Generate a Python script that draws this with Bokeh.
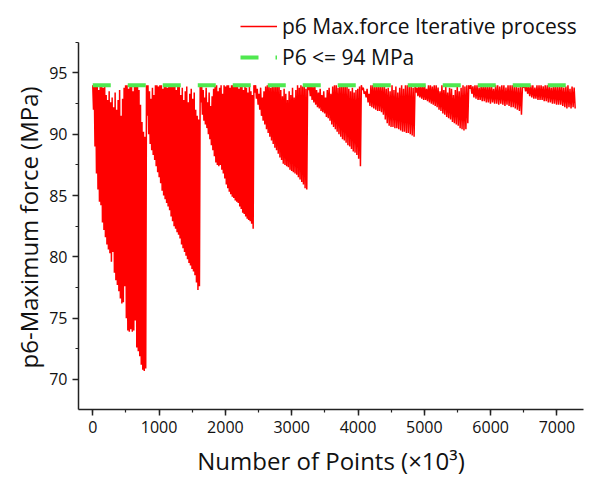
from bokeh.plotting import figure
from bokeh.models import (Legend, LegendItem, SingleIntervalTicker, FixedTicker,
                          Range1d, Title)
from bokeh.embed import file_html
from bokeh.resources import INLINE

# ---------------- data ----------------
seg_len = 810
seg_start = [0, 810, 1620, 2430, 3240, 4050, 4860, 5670, 6480]

trough_1 = [92.0, 89.0, 86.8, 85.5, 84.5, 84.2, 82.8, 82.2, 81.6, 81.0, 80.6, 80.3,
            79.6, 80.4, 78.7, 78.1, 77.7, 77.2, 76.6, 76.2, 76.3, 77.6, 75.0, 74.0,
            73.9, 74.1, 73.9, 74.0, 74.8, 72.6, 72.3, 71.9, 71.2, 70.8, 70.7, 70.9]
peak_1 = [94, 94, 93.9, 94, 93.6, 94, 94, 93.8, 94, 93.2, 92.8, 93.5,
          92.6, 93.0, 92.2, 93.4, 92.0, 92.8, 93.6, 91.5, 92.9, 93.8, 94, 94,
          93.7, 94, 94, 93.5, 94, 93.9, 94, 93.6, 92.4, 91.0, 90.2, 89.8]

trough_2 = [91.5, 90.0, 89.2, 88.7, 88.3, 87.9, 87.4, 86.9, 86.5, 86.0, 85.4, 85.0,
            84.7, 84.4, 84.1, 83.8, 83.3, 82.9, 82.5, 82.3, 82.0, 81.8, 81.5, 81.0,
            80.7, 80.4, 80.1, 79.8, 79.5, 79.3, 79.0, 78.8, 78.5, 77.9, 77.3, 77.6]
peak_2 = [94, 94, 93.5, 92.9, 93.8, 93.2, 94, 94, 93.9, 94, 94, 93.7,
          94, 94, 93.8, 94, 94, 94, 93.9, 94, 93.6, 94, 93.9, 93.2,
          93.8, 92.8, 93.5, 93.9, 92.6, 93.3, 93.7, 92.9, 93.4, 92.0, 91.5, 91.2]

trough_3 = [92.6, 91.6, 91.1, 90.8, 90.5, 90.0, 89.6, 89.1, 88.7, 88.2, 87.7, 87.5,
            87.4, 87.5, 87.1, 86.8, 86.4, 85.9, 85.6, 85.3, 85.1, 84.9, 84.8, 84.6,
            84.5, 84.4, 84.1, 83.9, 83.6, 83.5, 83.3, 83.1, 83.0, 82.9, 82.7, 82.3]
peak_3 = [94, 94, 93.6, 93.0, 93.8, 92.6, 93.4, 92.3, 93.1, 93.7, 93.9, 94,
          93.5, 93.8, 94, 93.3, 94, 93.9, 94, 94, 93.8, 94, 94, 94,
          93.9, 94, 93.7, 94, 94, 93.6, 94, 93.8, 93.4, 93.9, 93.5, 93.2]

trough_4 = [93.4, 92.9, 92.4, 92.0, 91.5, 91.1, 90.8, 90.4, 90.1, 89.8, 89.5, 89.2,
            88.9, 88.7, 88.4, 88.1, 87.9, 87.6, 87.5, 87.4, 87.3, 87.1, 87.0, 86.9,
            86.8, 86.7, 86.5, 86.3, 86.1, 85.9, 85.6, 85.5]
peak_4 = [94, 94, 93.7, 93.3, 93.8, 93.0, 93.5, 93.9, 94, 94, 93.8, 94,
          94, 93.9, 94, 94, 93.6, 93.1, 93.7, 93.3, 92.8, 93.5, 93.2, 93.8,
          93.0, 93.6, 94, 93.8, 94, 93.9, 94, 93.7]

trough_5 = [93.6, 93.1, 92.8, 92.6, 92.4, 92.2, 92.1, 91.9, 91.8, 91.7, 91.4, 91.3,
            91.1, 90.8, 90.6, 90.4, 90.2, 90.0, 89.8, 89.6, 89.5, 89.3, 89.1, 89.0,
            88.8, 88.6, 88.5, 88.3, 88.0, 87.4]
peak_5 = [94, 94, 94, 93.9, 94, 93.6, 93.4, 93.7, 93.2, 93.5, 93.0, 93.6,
          93.8, 93.3, 93.9, 94, 94, 93.8, 94, 94, 93.9, 94, 94, 93.7,
          93.5, 93.8, 93.4, 93.6, 93.7, 93.9]

trough_6 = [93.6, 93.3, 93.0, 92.6, 92.3, 92.2, 92.1, 92.0, 91.9, 91.9, 91.8, 91.6,
            91.2, 90.9, 90.7, 90.6, 90.6, 90.5, 90.5, 90.4, 90.3, 90.2, 90.2, 90.1,
            90.1, 90.0, 89.9, 89.8]
peak_6 = [94, 93.8, 93.5, 93.7, 93.3, 94, 94, 93.9, 94, 94, 94, 93.9,
          94, 93.7, 93.8, 93.5, 94, 93.6, 93.9, 93.4, 93.8, 94, 93.7, 94,
          94, 93.9, 94, 93.8]

trough_7 = [93.4, 93.1, 93.0, 92.9, 92.8, 92.8, 92.7, 92.6, 92.5, 92.4, 92.3, 92.2,
            92.0, 91.9, 91.7, 91.6, 91.4, 91.3, 91.2, 91.0, 90.9, 90.8, 90.7, 90.5,
            90.4, 90.3, 90.4, 90.9]
peak_7 = [94, 93.8, 94, 93.9, 94, 94, 93.7, 94, 94, 93.9, 94, 94,
          93.8, 93.5, 94, 93.6, 93.9, 93.4, 93.8, 93.7, 93.2, 93.6, 93.9, 93.5,
          93.8, 94, 93.9, 94]

trough_8 = [93.7, 93.3, 93.0, 92.9, 92.8, 92.8, 92.7, 92.7, 92.6, 92.6, 92.5, 92.6,
            92.5, 92.5, 92.4, 92.5, 92.4, 92.3, 92.4, 92.3, 92.2, 92.2, 92.1, 92.0,
            91.9, 91.6]
peak_8 = [94, 94, 93.9, 94, 94, 93.8, 94, 94, 94, 93.9, 94, 94,
          93.7, 94, 94, 93.9, 94, 94, 93.8, 94, 94, 94, 93.9, 94, 93.8, 94]

trough_9 = [93.8, 93.5, 93.3, 93.1, 93.0, 92.9, 92.9, 92.8, 92.8, 92.8, 92.7, 92.7,
            92.6, 92.6, 92.5, 92.5, 92.4, 92.4, 92.4, 92.3, 92.2, 92.1, 92.2, 92.1,
            92.2, 92.1]
peak_9 = [94, 94, 94, 93.9, 94, 94, 93.8, 94, 94, 94, 93.9, 94,
          94, 94, 93.8, 94, 94, 93.9, 94, 94, 93.8, 93.9, 94, 93.7, 93.9, 93.8]

troughs = [trough_1, trough_2, trough_3, trough_4, trough_5,
           trough_6, trough_7, trough_8, trough_9]
peaks = [peak_1, peak_2, peak_3, peak_4, peak_5, peak_6, peak_7, peak_8, peak_9]

limit_value = 94
limit_x = [0, 7290]

x_tick_interval = 1000
y_major_ticks = [70, 75, 80, 85, 90, 95]
y_minor_ticks = [67.5, 72.5, 77.5, 82.5, 87.5, 92.5, 97.5]

# ---------------- build the iterative series ----------------
xs, ys = [], []
for s, tr, pk in zip(seg_start, troughs, peaks):
    n = len(tr)
    step = seg_len / n
    for i in range(n):
        xs.append(s + i * step)
        ys.append(pk[i])
        xs.append(s + (i + 0.5) * step)
        ys.append(tr[i])

FONT = "Open Sans"

p = figure(width=589, height=479, output_backend="svg", toolbar_location=None,
           x_range=Range1d(-215, 7400), y_range=Range1d(67.55, 100.5),
           min_border_left=78, min_border_right=6, min_border_top=5,
           min_border_bottom=68)
p.outline_line_color = None
p.xgrid.visible = False
p.ygrid.visible = False
p.background_fill_color = "white"
p.border_fill_color = "white"

r_red = p.line(xs, ys, line_color="#ff0000", line_width=1.5)
r_green = p.line(limit_x, [limit_value, limit_value], line_color="#4fe84f",
                 line_width=4, line_dash="18 17")

for ax in (p.xaxis[0], p.yaxis[0]):
    ax.axis_line_color = "#222222"
    ax.axis_line_width = 1.5
    ax.major_tick_line_color = "#222222"
    ax.minor_tick_line_color = "#222222"
    ax.major_tick_line_width = 1.5
    ax.minor_tick_line_width = 1.2
    ax.major_tick_out = 6
    ax.major_tick_in = 0
    ax.minor_tick_out = 3
    ax.minor_tick_in = 0
    ax.major_label_text_font = FONT
    ax.major_label_text_font_size = "16px"
    ax.major_label_text_color = "#111111"
    ax.axis_label_text_font = FONT
    ax.axis_label_text_font_size = "24px"
    ax.axis_label_text_font_style = "normal"
    ax.axis_label_text_color = "#111111"
    ax.major_label_standoff = 5

p.xaxis.ticker = SingleIntervalTicker(interval=x_tick_interval, num_minor_ticks=2)
p.yaxis.ticker = FixedTicker(ticks=y_major_ticks, minor_ticks=y_minor_ticks)
p.yaxis.bounds = (67.55, 97.5)
p.xaxis.axis_label = "Number of Points (×10³)"
p.xaxis.axis_label_standoff = 8

ytitle = Title(text="p6-Maximum force (MPa)", align="left", offset=41,
               text_font=FONT, text_font_size="24px", text_font_style="normal",
               text_color="#111111", standoff=3)
p.add_layout(ytitle, "left")

legend = Legend(items=[LegendItem(label="p6 Max.force Iterative process", renderers=[r_red]),
                       LegendItem(label="P6 <= 94 MPa", renderers=[r_green])],
                location=(162, 338), orientation="vertical")
legend.label_text_font = FONT
legend.label_text_font_size = "21px"
legend.label_text_color = "#111111"
legend.glyph_width = 37
legend.glyph_height = 20
legend.label_height = 20
legend.label_standoff = 5
legend.spacing = 3
legend.padding = 0
legend.margin = 0
legend.border_line_color = None
legend.background_fill_alpha = 0
p.add_layout(legend, "center")

open("out.html", "w").write(file_html(p, INLINE))
